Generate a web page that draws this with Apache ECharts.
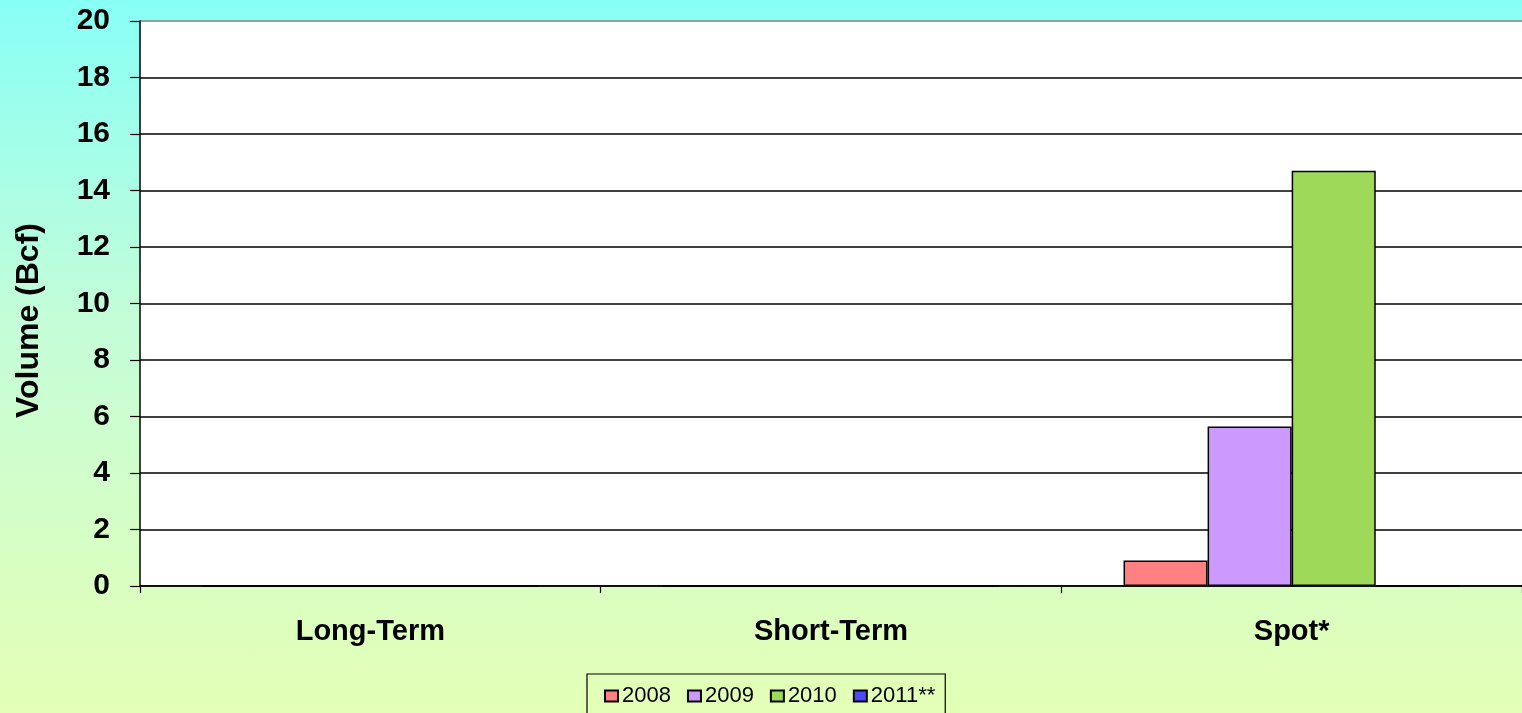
<!DOCTYPE html>
<html><head><meta charset="utf-8">
<script src="https://cdn.jsdelivr.net/npm/echarts@6/dist/echarts.min.js"></script>
<style>
html,body{margin:0;padding:0;}
#c{width:1522px;height:713px;background:linear-gradient(to bottom,#88fff6 0%,#c4fdd8 45%,#e4ffb6 100%);}
</style></head>
<body><div id="c"></div>
<script>
const categories = ['Long-Term', 'Short-Term', 'Spot*'];
const seriesNames = ['2008', '2009', '2010', '2011**'];
const v2008 = [0, 0, 0.9];
const v2009 = [0, 0, 5.65];
const v2010 = [0, 0, 14.7];
const v2011 = [0, 0, 0];
const yTicks = [0, 2, 4, 6, 8, 10, 12, 14, 16, 18, 20];
const colors = ['#ff8080', '#cc99ff', '#9fd95a', '#4a4aff'];
const values = [v2008, v2009, v2010, v2011];

const splitColors = yTicks.map((t, i) => i === yTicks.length - 1 ? '#808080' : '#000');

const chart = echarts.init(document.getElementById('c'), null, {renderer: 'canvas'});
chart.setOption({
  backgroundColor: 'transparent',
  animation: false,
  grid: {left: 140, top: 21, right: -2, bottom: 127, containLabel: false,
         show: true, backgroundColor: '#ffffff', borderWidth: 0},
  legend: {
    data: seriesNames, left: 587, top: 674, orient: 'horizontal',
    icon: 'rect', itemWidth: 13, itemHeight: 11, itemGap: 16,
    padding: [11, 10, 14, 17], borderColor: '#000', borderWidth: 1.2,
    textStyle: {fontFamily: 'Liberation Sans, Arial', fontSize: 22, color: '#000', padding: [0, 0, 0, -1]}
  },
  xAxis: {
    type: 'category', data: categories,
    axisLine: {show: true, lineStyle: {color: '#000', width: 1.5}},
    axisTick: {show: true, length: 7, lineStyle: {color: '#000', width: 1.2}},
    axisLabel: {fontFamily: 'Liberation Sans, Arial', fontWeight: 'bold', fontSize: 29, color: '#000', margin: 31}
  },
  yAxis: {
    type: 'value', min: 0, max: 20, interval: 2,
    name: 'Volume (Bcf)', nameLocation: 'middle', nameGap: 95, nameRotate: 90,
    nameTextStyle: {fontFamily: 'Liberation Sans, Arial', fontWeight: 'bold', fontSize: 32, color: '#000',
      padding: [0, 34, 0, 0]},
    axisLine: {show: true, lineStyle: {color: '#000', width: 1.5}},
    axisTick: {show: true, inside: false, length: 10, lineStyle: {color: '#000', width: 1.2}},
    axisLabel: {fontFamily: 'Liberation Sans, Arial', fontWeight: 'bold', fontSize: 30, color: '#000', margin: 30,
      formatter: v => yTicks.includes(v) ? String(v) : ''},
    splitLine: {show: true, lineStyle: {color: splitColors, width: 1.5}}
  },
  series: seriesNames.map((n, i) => ({
    name: n, type: 'bar', data: values[i],
    barGap: '0%', barCategoryGap: '27%',
    itemStyle: {color: colors[i], borderColor: '#000', borderWidth: 1.5}
  }))
});
</script></body></html>
